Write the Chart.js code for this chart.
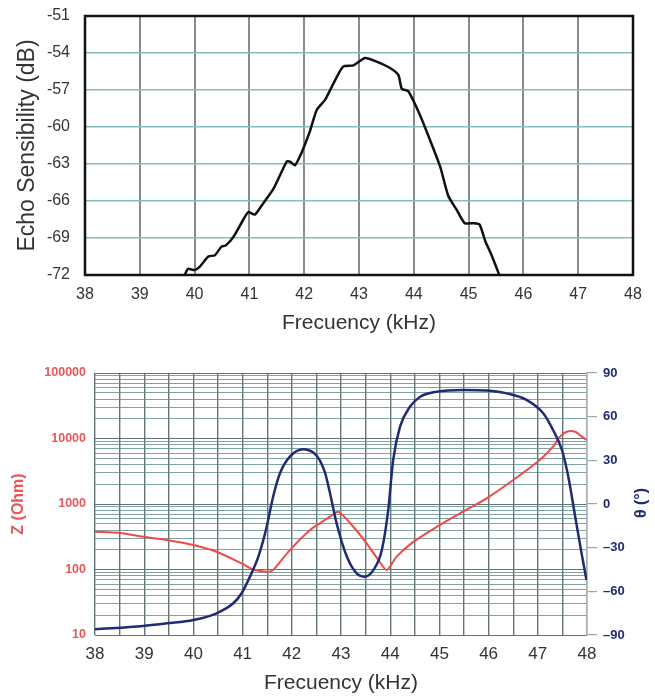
<!DOCTYPE html>
<html>
<head>
<meta charset="utf-8">
<script src="https://cdn.jsdelivr.net/npm/chart.js@4.4.1/dist/chart.umd.min.js"></script>
<style>
    html, body { margin: 0; padding: 0; background: #fff; }
    #wrap { position: relative; width: 655px; height: 696px; }
    .box { position: absolute; left: 0; width: 655px; }
    #topBox { top: 0; height: 340px; }
    #bottomBox { top: 340px; height: 356px; }
</style>
</head>
<body>
<div id="wrap">
    <div class="box" id="topBox"><canvas id="echoChart"></canvas></div>
    <div class="box" id="bottomBox"><canvas id="impedanceChart"></canvas></div>
</div>
<script>
// echo sensitivity curve
const echoFreq = [39.82, 39.88, 40.0, 40.1, 40.25, 40.37, 40.49, 40.57, 40.71, 40.89, 40.98, 41.1,
    41.25, 41.44, 41.68, 41.74, 41.83, 41.95, 42.1, 42.23, 42.38, 42.53, 42.71, 42.9, 43.11, 43.32,
    43.56, 43.72, 43.78, 43.9, 44.11, 44.3, 44.48, 44.63, 44.78, 44.93, 45.09, 45.2, 45.3, 45.42, 45.56];
const echoDb = [-72, -71.5, -71.6, -71.3, -70.5, -70.4, -69.7, -69.6, -68.9, -67.5, -66.9, -67.1,
    -66.2, -65.0, -62.8, -62.8, -63.1, -62.1, -60.4, -58.6, -57.8, -56.5, -55.1, -55.0, -54.4, -54.7,
    -55.2, -55.8, -56.9, -57.1, -59.0, -61.1, -63.2, -65.6, -66.7, -67.8, -67.8, -67.9, -69.2, -70.4, -72];

// impedance magnitude (log axis)
const zFreq = [38.0, 38.47, 38.98, 39.46, 40.0, 40.47, 40.98, 41.21, 41.49, 41.62, 41.96, 42.37,
    42.57, 42.78, 42.95, 43.25, 43.52, 43.76, 43.93, 44.13, 44.47, 44.95, 45.42, 45.96, 46.5, 47.04,
    47.31, 47.45, 47.59, 47.76, 47.86, 47.99];
const zOhm = [378, 365, 316, 282, 237, 187, 124, 101, 92, 98, 198, 400,
    507, 640, 760, 450, 251, 140, 98, 157, 264, 450, 721, 1222, 2323, 4700,
    7500, 10700, 12700, 12700, 11200, 9500];

// phase angle (right axis)
const phaseFreq = [38.0, 38.98, 39.46, 40.0, 40.47, 40.81, 40.98, 41.15, 41.32, 41.49, 41.62, 41.76,
    41.96, 42.23, 42.45, 42.57, 42.67, 42.76, 42.91, 43.12, 43.32, 43.49, 43.66, 43.83, 43.96, 44.06,
    44.2, 44.4, 44.61, 44.95, 45.49, 45.96, 46.37, 46.77, 47.11, 47.31, 47.49, 47.62, 47.76, 47.89, 47.99];
const phaseDeg = [-86.1, -83.8, -82.0, -79.7, -75.1, -68.2, -61.3, -49.9, -36.2, -15.6, 5.0, 21.1,
    32.5, 37.6, 35.0, 30.0, 22.0, 10.0, -13.2, -36.2, -47.6, -49.9, -45.3, -31.6, -4.1, 30.2,
    53.1, 66.8, 73.7, 77.2, 78.3, 77.9, 76.0, 71.5, 62.3, 50.8, 37.1, 18.8, -8.7, -33.9, -52.2];

// axis ticks
const freqTicks = [38, 39, 40, 41, 42, 43, 44, 45, 46, 47, 48];
const dbTicks = [-72, -69, -66, -63, -60, -57, -54, -51];
const zDecades = [10, 100, 1000, 10000, 100000];
const phaseTicks = [-90, -60, -30, 0, 30, 60, 90];

const toPoints = (xs, ys) => xs.map((x, i) => ({ x: x, y: ys[i] }));

// 1..9 steps inside every decade for the log grid
const zGridValues = [];
zDecades.forEach((d, i) => {
    if (i === zDecades.length - 1) { zGridValues.push(d); return; }
    for (let k = 1; k <= 9; k++) zGridValues.push(k * d);
});

const textGrey = '#333333';
const zRed = '#e8575a';
const phaseNavy = '#1f2b72';

// black frame around the plot area
const frame = {
    id: 'frame',
    afterDraw(chart) {
        const a = chart.chartArea, c = chart.ctx;
        c.save();
        c.strokeStyle = '#111';
        c.lineWidth = 2.5;
        c.strokeRect(a.left, a.top, a.right - a.left, a.bottom - a.top);
        c.restore();
    }
};

// right axis title, reading bottom to top like the left one
const phaseTitle = {
    id: 'phaseTitle',
    afterDraw(chart) {
        const c = chart.ctx;
        c.save();
        c.translate(642, 163);
        c.rotate(-Math.PI / 2);
        c.fillStyle = phaseNavy;
        c.font = 'bold 16px "Liberation Sans", Arial, sans-serif';
        c.textAlign = 'center';
        c.textBaseline = 'middle';
        c.fillText('θ (°)', 0, 0);
        c.restore();
    }
};

Chart.defaults.font.family = '"Liberation Sans", Arial, sans-serif';

new Chart(document.getElementById('echoChart').getContext('2d'), {
    type: 'line',
    data: {
        datasets: [{
            data: toPoints(echoFreq, echoDb),
            borderColor: '#111',
            borderWidth: 2.5,
            pointRadius: 0,
            tension: 0.2,
            fill: false
        }]
    },
    options: {
        responsive: true,
        maintainAspectRatio: false,
        animation: false,
        layout: { padding: { top: 16, right: 22, left: 0, bottom: 0 } },
        plugins: { legend: { display: false }, tooltip: { enabled: false } },
        scales: {
            x: {
                type: 'linear',
                min: 38,
                max: 48,
                afterFit: s => { s.height = 65; },
                afterBuildTicks: s => { s.ticks = freqTicks.map(v => ({ value: v })); },
                ticks: { color: textGrey, font: { size: 16 }, padding: 10, autoSkip: false, maxRotation: 0 },
                grid: { color: '#858c8c', lineWidth: 2, drawTicks: false },
                border: { display: false },
                title: { display: true, text: 'Frecuency (kHz)', color: textGrey, font: { size: 21 }, padding: { top: 0, bottom: 4 } }
            },
            y: {
                min: -72,
                max: -51,
                // keep the label gap from pushing the plot down
                afterFit: s => { s.width = 85; s.paddingTop = 0; s.paddingBottom = 0; },
                afterBuildTicks: s => { s.ticks = dbTicks.map(v => ({ value: v })); },
                ticks: { color: textGrey, font: { size: 16 }, padding: 15, autoSkip: false },
                grid: { color: '#86bcbd', lineWidth: 1.5, drawTicks: false },
                border: { display: false },
                title: { display: true, text: 'Echo Sensibility (dB)', color: textGrey, font: { size: 23 }, padding: { top: 14, bottom: 0 } }
            }
        }
    },
    plugins: [frame]
});

new Chart(document.getElementById('impedanceChart').getContext('2d'), {
    type: 'line',
    data: {
        datasets: [{
            label: 'θ',
            data: toPoints(phaseFreq, phaseDeg),
            yAxisID: 'y2',
            borderColor: phaseNavy,
            borderWidth: 2.5,
            pointRadius: 0,
            cubicInterpolationMode: 'monotone',
            fill: false
        }, {
            label: 'Z',
            data: toPoints(zFreq, zOhm),
            yAxisID: 'y',
            borderColor: '#ef4a4a',
            borderWidth: 2,
            pointRadius: 0,
            tension: 0.25,
            fill: false
        }]
    },
    options: {
        responsive: true,
        maintainAspectRatio: false,
        animation: false,
        layout: { padding: { top: 33, right: 0, left: 0, bottom: 0 } },
        plugins: { legend: { display: false }, tooltip: { enabled: false } },
        scales: {
            x: {
                type: 'linear',
                min: 38,
                max: 48,
                afterFit: s => { s.height = 61; },
                ticks: {
                    stepSize: 0.5,
                    autoSkip: false,
                    maxRotation: 0,
                    color: textGrey,
                    font: { size: 17 },
                    padding: 9,
                    callback: v => freqTicks.includes(v) ? v : ''
                },
                grid: { color: '#657574', lineWidth: 1.4, drawTicks: false },
                border: { display: false },
                title: { display: true, text: 'Frecuency (kHz)', color: textGrey, font: { size: 21 }, padding: { top: 0, bottom: 0 } }
            },
            y: {
                type: 'logarithmic',
                position: 'left',
                min: 10,
                max: 100000,
                afterFit: s => { s.width = 95; },
                afterBuildTicks: s => { s.ticks = zGridValues.map(v => ({ value: v })); },
                ticks: {
                    autoSkip: false,
                    color: zRed,
                    font: { size: 12.5, weight: 'bold' },
                    padding: 9,
                    callback: v => zDecades.includes(v) ? String(v) : ''
                },
                grid: {
                    drawTicks: false,
                    lineWidth: 1,
                    color: ctx => zDecades.includes(ctx.tick.value) ? '#5f7373' : 'rgba(95, 140, 140, 0.8)'
                },
                border: { display: false },
                title: { display: true, text: 'Z (Ohm)', color: zRed, font: { size: 16, weight: 'bold' }, padding: { top: 9, bottom: 0 } }
            },
            y2: {
                type: 'linear',
                position: 'right',
                min: -90,
                max: 90,
                afterFit: s => { s.width = 68; },
                afterBuildTicks: s => { s.ticks = phaseTicks.map(v => ({ value: v })); },
                ticks: {
                    autoSkip: false,
                    color: phaseNavy,
                    font: { size: 13, weight: 'bold' },
                    padding: 6,
                    callback: v => v < 0 ? '–' + Math.abs(v) : String(v)
                },
                grid: { drawOnChartArea: false, tickLength: 10, color: '#9aa7a7', lineWidth: 1.2 },
                border: { display: true, color: '#a8b4b4', width: 1.2 }
            }
        }
    },
    plugins: [phaseTitle]
});
</script>
</body>
</html>
